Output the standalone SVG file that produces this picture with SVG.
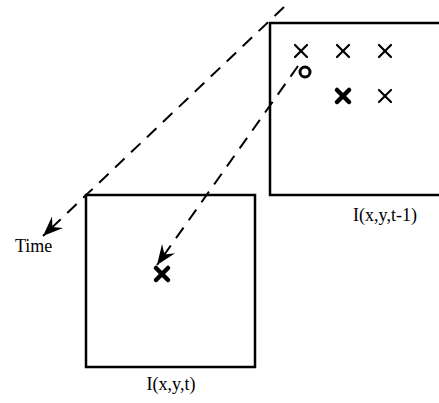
<svg xmlns="http://www.w3.org/2000/svg" width="439" height="403" viewBox="0 0 439 403">
<defs>
<marker id="arr" markerUnits="userSpaceOnUse" markerWidth="26" markerHeight="18" viewBox="-22 -9 26 18" refX="0" refY="0" orient="auto">
<path d="M0,0 L-20,-8 L-13,0 L-20,8 Z" fill="#000"/>
</marker>
</defs>
<style>
.frame{fill:none;stroke:#000;stroke-width:2.5}
.dash{fill:none;stroke:#000;stroke-width:2;stroke-dasharray:13 9}
.thin{stroke:#000;stroke-width:2.2;stroke-linecap:round}
.bold{stroke:#000;stroke-width:4.5;stroke-linecap:round}
.lbl{font-family:"Liberation Serif","Times New Roman",serif;font-size:18px;fill:#000}
</style>
<rect width="439" height="403" fill="#fff"/>
<g id="frame-t-1">
<path class="frame" d="M441,23 L270,23 L270,195 L441,195"/>
<line class="thin" x1="295" y1="45" x2="307" y2="57"/><line class="thin" x1="307" y1="45" x2="295" y2="57"/>
<line class="thin" x1="337" y1="45" x2="349" y2="57"/><line class="thin" x1="349" y1="45" x2="337" y2="57"/>
<line class="thin" x1="379" y1="45" x2="391" y2="57"/><line class="thin" x1="391" y1="45" x2="379" y2="57"/>
<line class="bold" x1="337" y1="90" x2="349" y2="102"/><line class="bold" x1="349" y1="90" x2="337" y2="102"/>
<line class="thin" x1="379" y1="90" x2="391" y2="102"/><line class="thin" x1="391" y1="90" x2="379" y2="102"/>
<circle cx="305" cy="72" r="5" fill="none" stroke="#000" stroke-width="3"/>
<text class="lbl" x="385" y="221" text-anchor="middle">I(x,y,t-1)</text>
</g>
<g id="frame-t">
<rect class="frame" x="86" y="195" width="169" height="172"/>
<line class="bold" x1="156" y1="268" x2="168" y2="280"/><line class="bold" x1="168" y1="268" x2="156" y2="280"/>
<text class="lbl" x="171" y="390" text-anchor="middle">I(x,y,t)</text>
</g>
<g id="time-label">
<text class="lbl" x="15" y="252">Time</text>
</g>
<g id="connectors">
<line class="dash" x1="284" y1="7" x2="43" y2="236" marker-end="url(#arr)"/>
<path class="dash" d="M298,66 L157,265" marker-end="url(#arr)"/>
</g>
</svg>
